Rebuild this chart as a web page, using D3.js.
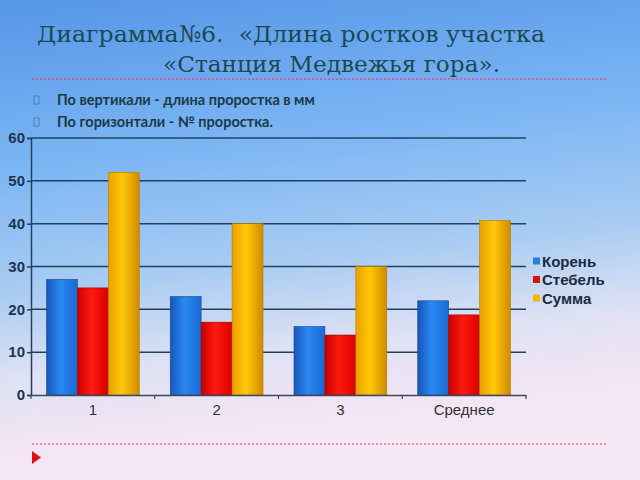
<!DOCTYPE html>
<html><head><meta charset="utf-8">
<script src="https://cdn.jsdelivr.net/npm/d3@7"></script>
<style>html,body{margin:0;padding:0;overflow:hidden}svg{display:block}</style>
</head><body>
<svg id="c" width="640" height="480"></svg>
<script>
const categories = ["1", "2", "3", "Среднее"];
const seriesNames = ["Корень", "Стебель", "Сумма"];
const koren = [27, 23, 16, 22];
const stebel = [25, 17, 14, 18.7];
const summa = [52, 40, 30, 40.7];
const yTicks = [0, 10, 20, 30, 40, 50, 60];
const seriesValues = [koren, stebel, summa];

const svg = d3.select("#c");
const defs = svg.append("defs");

const bg = defs.append("linearGradient").attr("id","bg").attr("x1",0).attr("y1",0).attr("x2",0.15).attr("y2",1);
[["0%","#5696e8"],["35%","#7cb6f4"],["60%","#a9ccf2"],["78%","#dfe2f4"],["90%","#f1e4f4"],["100%","#f6e8f5"]]
  .forEach(([o,c])=>bg.append("stop").attr("offset",o).attr("stop-color",c));
svg.append("rect").attr("width",640).attr("height",480).attr("fill","url(#bg)");

const barGrads = [
  ["#1656b8","#2a88f2","#1a6ad4"],
  ["#c80000","#ff1a10","#d80000"],
  ["#eaa000","#ffc808","#d08a00"]
];
barGrads.forEach((g,i)=>{
  const lg = defs.append("linearGradient").attr("id","bar"+i).attr("x1",0).attr("x2",1).attr("y1",0).attr("y2",0);
  lg.append("stop").attr("offset","0%").attr("stop-color",g[0]);
  lg.append("stop").attr("offset","45%").attr("stop-color",g[1]);
  lg.append("stop").attr("offset","100%").attr("stop-color",g[2]);
});
const legendColors = ["#2a7ee0","#e01010","#f5b800"];
const strokeColors = ["#1a4e90","#a00000","#b08000"];

// Title
const titleColor = "#1b4a52";
svg.append("text").attr("x",37).attr("y",42).attr("font-family","DejaVu Serif").attr("font-size",23)
  .attr("fill",titleColor).attr("textLength",508).attr("lengthAdjust","spacingAndGlyphs")
  .text("Диаграмма№6.\u00a0\u00a0«Длина ростков участка");
svg.append("text").attr("x",163).attr("y",72).attr("font-family","DejaVu Serif").attr("font-size",23)
  .attr("fill",titleColor).attr("textLength",337).attr("lengthAdjust","spacingAndGlyphs")
  .text("«Станция Медвежья гора».");

svg.append("line").attr("x1",32).attr("x2",607).attr("y1",79).attr("y2",79)
  .attr("stroke","#d0508a").attr("stroke-width",1.5).attr("stroke-dasharray","2,2");
svg.append("line").attr("x1",32).attr("x2",607).attr("y1",444).attr("y2",444)
  .attr("stroke","#e04050").attr("stroke-width",1.2).attr("stroke-dasharray","2,2");

const bullets = ["По вертикали - длина проростка в мм", "По горизонтали - № проростка."];
bullets.forEach((t,i)=>{
  svg.append("rect").attr("x",34).attr("y",96+i*22).attr("width",5).attr("height",8)
    .attr("fill","none").attr("stroke","#4a7a90").attr("stroke-width",0.8);
  svg.append("text").attr("x",57).attr("y",105+i*22).attr("font-family","Lato").attr("font-weight","bold")
    .attr("font-size",14.5).attr("fill","#1c3a44").text(t);
});

// Chart
const x0 = 31, x1 = 526, yBottom = 395, yTop = 138;
const x = d3.scaleBand().domain(categories).range([x0,x1]).paddingInner(0).paddingOuter(0);
const xs = d3.scaleBand().domain(d3.range(3)).range([0,x.bandwidth()]).paddingInner(0).paddingOuter(0.5);
const y = d3.scaleLinear().domain([0,60]).range([yBottom,yTop]);

// gridlines
svg.append("g").selectAll("line").data(yTicks.filter(d=>d>0)).join("line")
  .attr("x1",x0).attr("x2",x1).attr("y1",d=>y(d)).attr("y2",d=>y(d))
  .attr("stroke","#23405e").attr("stroke-width",1.5);

// bars
const groups = svg.append("g").selectAll("g").data(categories).join("g")
  .attr("transform",d=>`translate(${x(d)},0)`);
groups.selectAll("rect").data((d,ci)=>seriesValues.map((s,si)=>({si,v:s[ci]}))).join("rect")
  .attr("x",d=>xs(d.si)).attr("width",xs.bandwidth())
  .attr("y",d=>y(d.v)).attr("height",d=>yBottom-y(d.v))
  .attr("fill",d=>`url(#bar${d.si})`).attr("stroke",d=>strokeColors[d.si]).attr("stroke-width",0.6);

// axes
const yAxis = d3.axisLeft(y).tickValues(yTicks).tickSize(4).tickPadding(2);
const gy = svg.append("g").attr("transform",`translate(${x0},0)`).call(yAxis);
gy.select(".domain").attr("stroke","#23405e").attr("stroke-width",1.5);
gy.selectAll(".tick line").attr("stroke","#23405e").attr("stroke-width",1.5);
gy.selectAll(".tick text").attr("font-family","Liberation Sans").attr("font-weight","bold")
  .attr("font-size",15).attr("fill","#1d3550");

const xAxis = d3.axisBottom(x).tickSize(0).tickPadding(9);
const gx = svg.append("g").attr("transform",`translate(0,${yBottom})`).call(xAxis);
gx.select(".domain").attr("stroke","#3a4a5e").attr("stroke-width",1.5);
gx.selectAll(".tick text").attr("font-family","Liberation Sans").attr("font-size",15).attr("fill","#333");
svg.append("g").selectAll("line").data(categories.map(c=>x(c)).concat([x1])).join("line")
  .attr("x1",d=>d).attr("x2",d=>d).attr("y1",yBottom).attr("y2",yBottom+4)
  .attr("stroke","#3a4a5e").attr("stroke-width",1.2);

// legend
const lg = svg.append("g").attr("transform","translate(533,261)");
seriesNames.forEach((n,i)=>{
  lg.append("rect").attr("x",0).attr("y",i*18.5-3.5).attr("width",7).attr("height",7).attr("fill",legendColors[i]);
  lg.append("text").attr("x",9).attr("y",i*18.5+5.5).attr("font-family","Liberation Sans").attr("font-weight","bold")
    .attr("font-size",15).attr("fill","#1a2a40").text(n);
});

// red triangle
svg.append("path").attr("d","M32,451 L41,457.5 L32,464 Z").attr("fill","#e01010");
</script>
</body></html>
